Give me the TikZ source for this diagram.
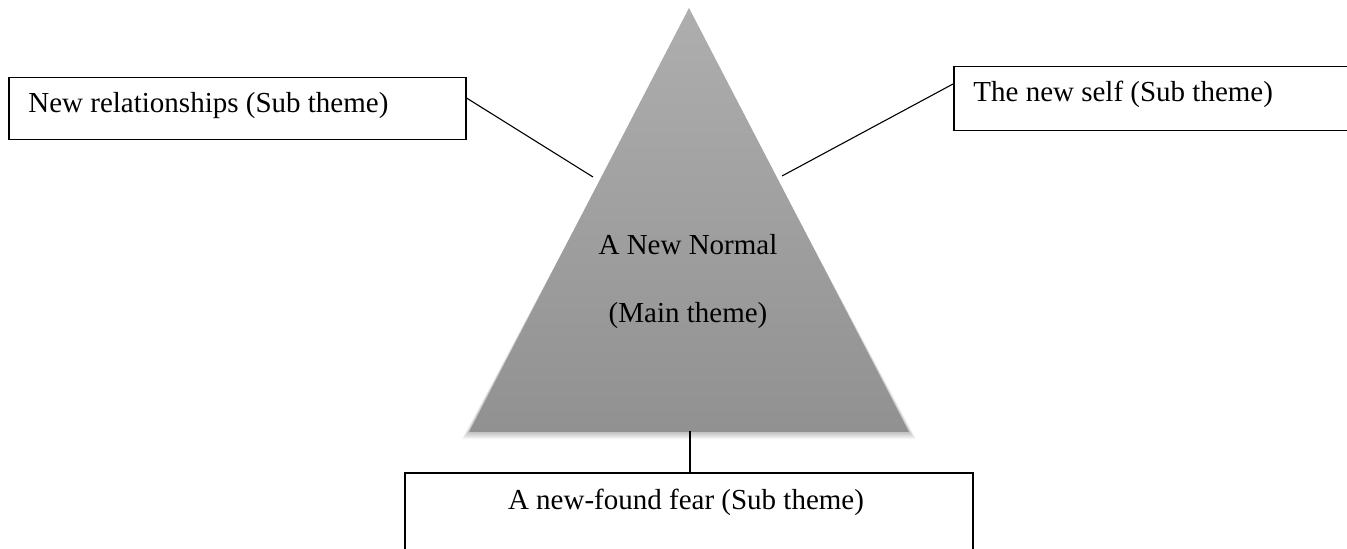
\documentclass[tikz,border=0pt]{standalone}
\usepackage{fontspec}
\setmainfont{Liberation Serif}
\definecolor{tritop}{RGB}{174,174,174}
\definecolor{tribot}{RGB}{145,145,145}
\tikzset{
  themebox/.style={draw=black, line width=0.75pt, inner sep=0pt, fill=white},
  themetext/.style={inner sep=0pt, font=\fontsize{14.5pt}{17pt}\selectfont},
  link/.style={draw=black, line width=0.55pt},
}
\begin{document}
\begin{tikzpicture}[x=0.5pt, y=-0.5pt]
  \useasboundingbox (0,0) rectangle (1347,549);
  \clip (0,0) rectangle (1347,549);
  \fill[white] (0,0) rectangle (1347,549);

  % triangle corners
  \coordinate (apex) at (689,8);
  \coordinate (bl) at (469,432);
  \coordinate (br) at (909,432);

  % soft shadow under the triangle
  \foreach \d in {1,...,7}{
    \fill[black, opacity=0.035] ([yshift=-\d*0.5pt]apex) -- ([xshift=-0.5*\d pt, yshift=-\d*0.5pt]bl)
      -- ([xshift=0.5*\d pt, yshift=-\d*0.5pt]br) -- cycle;
  }
  % main theme triangle
  \shade[top color=tritop, bottom color=tribot] (apex) -- (bl) -- (br) -- cycle;

  \node[themetext, anchor=base] (main1) at (688,255) {A New Normal};
  \node[themetext, anchor=base] (main2) at (688,323) {(Main theme)};

  % sub theme boxes
  \node[themebox, anchor=north west, minimum width=228.5pt, minimum height=31pt] (lbox) at (8,77) {};
  \node[themetext, anchor=base west] (ltext) at (28,113) {New relationships (Sub theme)};

  \node[themebox, anchor=north west, minimum width=250pt, minimum height=32pt] (rbox) at (953,66) {};
  \node[themetext, anchor=base west] (rtext) at (973,102) {The new self (Sub theme)};

  \node[themebox, anchor=north, minimum width=284pt, minimum height=60pt] (fbox) at (689,472) {};
  \node[themetext] (ftext) at (686,502) {A new-found fear (Sub theme)};

  % connectors
  \coordinate (lend) at (593,177);
  \coordinate (rend) at (782,176);
  \coordinate (bend) at (690,431);
  \draw[link] ([yshift=-10.5pt]lbox.north east) -- (lend);
  \draw[link] ([yshift=-9pt]rbox.north west) -- (rend);
  \draw[link] (bend) -- (bend |- fbox.north);
\end{tikzpicture}
\end{document}
